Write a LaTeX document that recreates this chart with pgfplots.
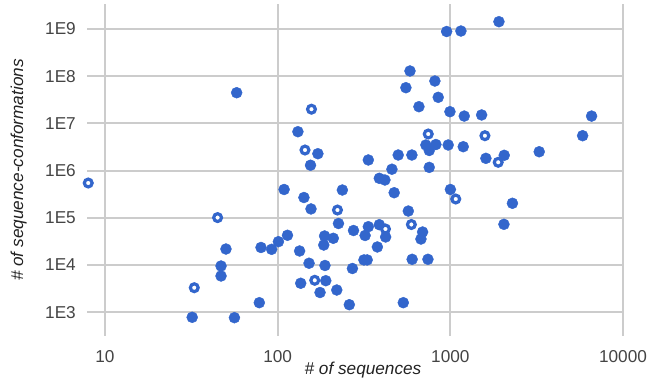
\documentclass[border=0pt]{standalone}
\usepackage{fontspec}
\setmainfont{Liberation Sans}
\usepackage{pgfplots}
\pgfplotsset{compat=1.18}
\definecolor{gblue}{HTML}{3366CC}
\definecolor{ggrid}{HTML}{CCCCCC}
\definecolor{gtick}{HTML}{444444}
\definecolor{gtitle}{HTML}{222222}
\newcommand\f{\fontsize{17.2bp}{20bp}\selectfont}
\begin{document}
\begin{tikzpicture}
\begin{axis}[
  at={(0,0)}, anchor=south west,
  scale only axis, width=536bp, height=332bp,
  xmode=log, ymode=log,
  xmin=7.87, xmax=10000, ymin=313, ymax=3.39e9,
  axis line style={draw=none},
  grid=major,
  major grid style={ggrid, line width=2bp},
  major tick length=0pt,
  minor tick length=0pt,
  xminorticks=false, yminorticks=false,
  xtick={10,100,1000,10000},
  xticklabels={10,100,1000,10000},
  ytick={1e3,1e4,1e5,1e6,1e7,1e8,1e9},
  yticklabels={1E3,1E4,1E5,1E6,1E7,1E8,1E9},
  xticklabel style={font=\f, text=gtick, inner sep=0pt, anchor=north, yshift=-14bp},
  yticklabel style={font=\f, text=gtick, inner sep=0pt, anchor=east, xshift=-11bp},
  xlabel={\itshape \# of sequences},
  ylabel={\itshape \# of sequence-conformations},
  xlabel style={font=\f, text=gtitle, inner sep=0pt, at={(axis description cs:0.5,0)}, anchor=base, yshift=-38bp, xshift=8bp},
  ylabel style={font=\f, text=gtitle, inner sep=0pt, at={(axis description cs:-0.1194,0.5)}, anchor=base},
  clip=false,
]
\addplot[only marks, color=gblue, mark=*, mark size=5.5bp, mark options={fill=gblue, draw=none}] coordinates {
(57.9,4.47e7) (131,6.67e6) (171,2.28e6) (155,1.30e6) (109,3.98e5)
(142,2.69e5) (156,1.54e5) (237,3.88e5) (225,7.57e4) (114,4.26e4)
(101,3.12e4) (92.3,2.15e4) (80.1,2.35e4) (50.2,2.18e4) (134,1.98e4)
(152,1.09e4) (47.0,9.52e3) (47.0,5.85e3) (136,4.10e3) (190,4.65e3)
(176,2.61e3) (220,2.95e3) (260,1.44e3) (78.3,1.59e3) (32.0,780)
(56.2,765) (187,4.12e4) (210,3.68e4) (185,2.65e4) (188,9.76e3)
(271,8.43e3) (275,5.38e4) (316,1.28e4) (330,1.28e4) (321,4.22e4)
(335,6.48e4) (388,7.14e4) (422,3.92e4) (378,2.41e4) (335,1.68e6)
(499,2.14e6) (599,2.14e6) (459,1.07e6) (755,1.17e6) (388,6.87e5)
(418,6.32e5) (473,3.40e5) (1001,3.98e5) (571,1.39e5) (691,5.00e4)
(676,3.55e4) (601,1.32e4) (742,1.32e4) (534,1.59e3) (952,8.85e8)
(1152,9.07e8) (1912,1.43e9) (584,1.29e8) (553,5.71e7) (814,7.91e7)
(851,3.57e7) (658,2.26e7) (995,1.77e7) (1204,1.43e7) (1518,1.51e7)
(722,3.49e6) (825,3.57e6) (755,2.67e6) (972,3.49e6) (1188,3.21e6)
(1607,1.82e6) (2052,2.11e6) (3272,2.51e6) (5837,5.49e6) (6578,1.43e7)
(2289,2.03e5) (2044,7.28e4)
};
\addplot[only marks, color=gblue, mark=*, mark size=3.9bp, mark options={fill=white, draw=gblue, line width=3.2bp}] coordinates {
(157,2.00e7) (144,2.73e6) (8.0,5.46e5) (44.9,1.01e5) (32.9,3.30e3)
(164,4.74e3) (222,1.46e5) (745,5.96e6) (1586,5.49e6) (1894,1.50e6)
(1075,2.50e5) (421,5.79e4) (595,7.21e4)
};
\end{axis}
\pgfresetboundingbox
\useasboundingbox (-87bp,-44bp) rectangle (562bp,336bp);
\end{tikzpicture}
\end{document}
